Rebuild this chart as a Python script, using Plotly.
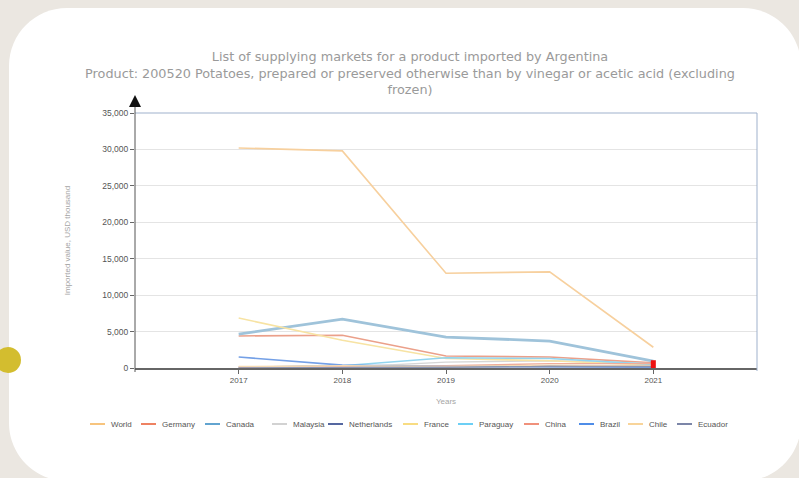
import plotly.graph_objects as go

years = [2017, 2018, 2019, 2020, 2021]
countries = ["World", "Germany", "Canada", "Malaysia", "Netherlands", "France",
             "Paraguay", "China", "Brazil", "Chile", "Ecuador"]
world = [30200, 29800, 13000, 13200, 2850]
germany = [4400, 4500, 1650, 1500, 700]
canada = [4650, 6700, 4250, 3700, 950]
malaysia = [0, 100, 800, 1000, 600]
netherlands = [100, 300, 200, 300, 200]
france = [6860, 3800, 1300, 1000, 400]
paraguay = [0, 300, 1400, 1300, 500]
china = [100, 200, 300, 600, 600]
brazil = [1500, 400, 200, 200, 100]
chile = [200, 300, 200, 400, 300]
ecuador = [0, 0, 100, 200, 200]
series = [world, germany, canada, malaysia, netherlands, france,
          paraguay, china, brazil, chile, ecuador]
highlight_year = [2021]
highlight_value = [300]

y_ticks = [0, 5000, 10000, 15000, 20000, 25000, 30000, 35000]

line_colors = ["#f7d09e", "#eba08a", "#9fc3da", "#d6d6d6", "#6f80aa", "#f7e3a3",
               "#92d5ef", "#efac9a", "#74a0e6", "#f5dab3", "#8a94b2"]
legend_colors = ["#f7c47e", "#ee8262", "#62a4d0", "#d2d2d2", "#5567a0", "#f8dc82",
                 "#6ccff5", "#f0917b", "#4f8de8", "#f8d49a", "#7c86a8"]
widths = [1.6, 1.6, 2.8, 1.4, 1.6, 1.6, 1.6, 1.4, 1.6, 1.4, 1.4]

# layout constants (pixels)
L, R, T, B = 135, 757, 113, 368
W, H = 799, 478
legend_x = [90, 141, 205, 272, 328, 403, 458, 524, 579, 628, 677]
legend_y = 424


def px(x):
    return (x - L) / (R - L)


def py(y):
    return (B - y) / (B - T)


fig = go.Figure()
for name, vals, c, w in zip(countries, series, line_colors, widths):
    fig.add_trace(go.Scatter(x=years, y=vals, mode="lines", name=name,
                             showlegend=False, line=dict(color=c, width=w)))
fig.add_trace(go.Scatter(x=highlight_year, y=highlight_value, mode="markers",
                         showlegend=False,
                         marker=dict(symbol="line-ns", size=8, color="#ee1111",
                                     line=dict(width=5, color="#ee1111"))))

# card background
x0, x1, y0, y1, r = 9, 801, 8, 481, 58
k = 0.5523 * r
pts = [
    ("M", [(x0 + r, y0)]),
    ("L", [(x1 - r, y0)]),
    ("C", [(x1 - r + k, y0), (x1, y0 + r - k), (x1, y0 + r)]),
    ("L", [(x1, y1 - r)]),
    ("C", [(x1, y1 - r + k), (x1 - r + k, y1), (x1 - r, y1)]),
    ("L", [(x0 + r, y1)]),
    ("C", [(x0 + r - k, y1), (x0, y1 - r + k), (x0, y1 - r)]),
    ("L", [(x0, y0 + r)]),
    ("C", [(x0, y0 + r - k), (x0 + r - k, y0), (x0 + r, y0)]),
]
path = ""
for cmd, ps in pts:
    path += cmd + " " + " ".join(f"{px(a):.5f},{py(b):.5f}" for a, b in ps) + " "
path += "Z"

shapes = [
    dict(type="path", path=path, xref="paper", yref="paper", layer="below",
         fillcolor="#ffffff", line=dict(width=0)),
    dict(type="circle", xref="paper", yref="paper", layer="above",
         x0=px(-5), x1=px(21), y0=py(373), y1=py(347),
         fillcolor="#d3bd2f", line=dict(width=0)),
    dict(type="line", xref="paper", yref="paper", x0=0, x1=1, y0=1, y1=1,
         line=dict(color="#9fb1cc", width=1)),
    dict(type="line", xref="paper", yref="paper", x0=1, x1=1, y0=py(371), y1=1,
         line=dict(color="#9fb1cc", width=1)),
    dict(type="line", xref="paper", yref="paper", x0=0, x1=0, y0=py(372), y1=py(105),
         line=dict(color="#555555", width=1)),
    dict(type="path", xref="paper", yref="paper",
         path=f"M {px(129):.5f},{py(107):.5f} L {px(141):.5f},{py(107):.5f} L {px(135):.5f},{py(95):.5f} Z",
         fillcolor="#111111", line=dict(width=0)),
]

annotations = []
for name, c, lx in zip(countries, legend_colors, legend_x):
    shapes.append(dict(type="line", xref="paper", yref="paper",
                       x0=px(lx), x1=px(lx + 15), y0=py(legend_y), y1=py(legend_y),
                       line=dict(color=c, width=2)))
    annotations.append(dict(text=name, xref="paper", yref="paper",
                            x=px(lx + 19), y=py(legend_y), xanchor="left",
                            yanchor="middle", showarrow=False,
                            font=dict(size=8, color="#555555")))

fig.update_layout(
    width=W, height=H,
    margin=dict(l=L, r=W - R, t=T, b=H - B),
    paper_bgcolor="#ebe7e1",
    plot_bgcolor="rgba(0,0,0,0)",
    font=dict(family="Liberation Sans, Arial, sans-serif", size=8, color="#555555"),
    title=dict(
        text="List of supplying markets for a product imported by Argentina<br>"
             "Product: 200520 Potatoes, prepared or preserved otherwise than by vinegar or acetic acid (excluding<br>"
             "frozen)",
        x=410 / W, xref="container", xanchor="center",
        y=1 - 61 / H, yref="container", yanchor="top",
        font=dict(family="DejaVu Sans, Verdana, sans-serif", size=12.8, color="#9a9a9a"),
    ),
    xaxis=dict(range=[2016, 2022], tickvals=years, ticktext=[str(y) for y in years],
               showgrid=False, zeroline=False, showline=True, linecolor="#666666",
               linewidth=1.5, ticks="outside", ticklen=4, tickcolor="#666666",
               tickfont=dict(size=8, color="#555555"),
               title=dict(text="Years", font=dict(size=8, color="#a5a5a5"), standoff=14)),
    yaxis=dict(range=[0, 35000], tickvals=y_ticks, tickformat=",d",
               showgrid=True, gridcolor="#e4e4e4", gridwidth=1, zeroline=False,
               showline=False, ticks="outside", ticklen=4, tickcolor="#666666",
               tickfont=dict(size=8.5, color="#555555"),
               title=dict(text="Imported value, USD thousand",
                          font=dict(size=8, color="#a5a5a5"), standoff=30)),
    showlegend=False,
    shapes=shapes,
    annotations=annotations,
)

fig.write_html("out.html", config={"displayModeBar": False},
               post_script="document.body.style.margin='0';")
